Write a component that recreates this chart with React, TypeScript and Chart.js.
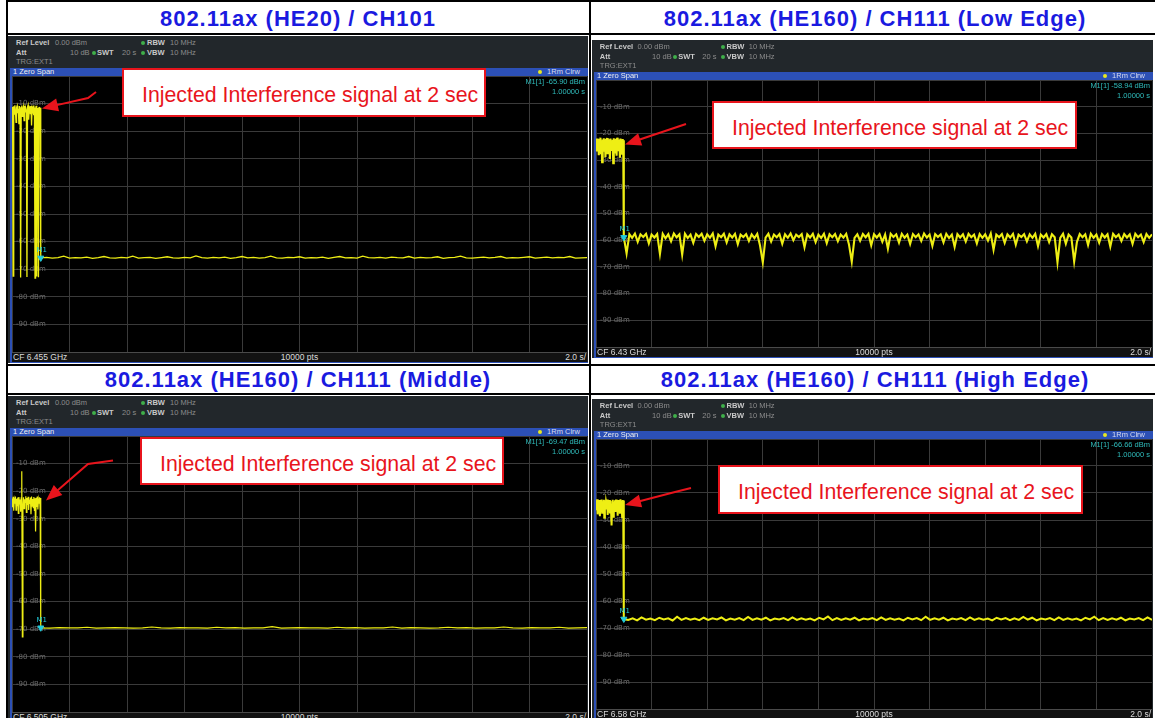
import React, { useEffect, useRef } from "react";
import { Chart, registerables } from "chart.js";
Chart.register(...registerables);

// ---------------- DATA ----------------
const panelTitles = [
  "802.11ax (HE20) / CH101",
  "802.11ax (HE160) / CH111 (Low Edge)",
  "802.11ax (HE160) / CH111 (Middle)",
  "802.11ax (HE160) / CH111 (High Edge)",
];
const centerFreqs = ["CF 6.455 GHz", "CF 6.43 GHz", "CF 6.505 GHz", "CF 6.58 GHz"];
const markerLevels = [-65.9, -58.94, -69.47, -66.66];
const markerTimes = [1.0, 1.0, 1.0, 1.0];
const markerReadouts = ["M1[1] -65.90 dBm", "M1[1] -58.94 dBm", "M1[1] -69.47 dBm", "M1[1] -66.66 dBm"];
const markerTimeText = "1.00000 s";
const yTickValues = [0, -10, -20, -30, -40, -50, -60, -70, -80, -90, -100];
const sweepTime = 20; // s (2.0 s/div)
const burstEnd = 1; // s
const calloutText = "Injected Interference signal at 2 sec";

// trace samples: interference burst (0..1 s) and residual floor (1..20 s), dBm
const burstA = [
  -11.2, -12.5, -72.5, -11.0, -13.8, -10.6, -12.9, -16.8, -11.4, -10.8,
  -13.5, -11.9, -17.5, -10.9, -12.2, -73.0, -11.5, -10.7, -14.6, -12.0,
  -11.1, -16.2, -10.8, -13.0, -11.7, -12.4, -72.8, -11.3, -10.6, -15.8,
  -12.1, -11.0, -13.6, -10.9, -17.9, -11.8, -12.6, -10.7, -14.2, -11.4,
  -73.2, -12.0, -10.8, -72.6, -11.6, -13.1, -72.9, -11.2, -12.8, -11.5, -13.4,
];
const floorA = [
  -65.9, -65.7, -66.0, -65.8, -65.3, -66.0, -65.8, -65.9, -65.6, -66.1,
  -65.8, -65.4, -65.9, -66.0, -65.7, -65.9, -65.3, -66.0, -65.8, -65.7,
  -66.1, -65.8, -65.5, -65.9, -66.0, -65.7, -65.9, -65.2, -65.8, -66.0,
  -65.7, -65.9, -65.6, -66.1, -65.8, -65.4, -65.9, -65.7, -66.0, -65.8,
  -65.3, -65.9, -66.0, -65.7, -65.8, -65.5, -66.0, -65.8, -65.9, -65.6,
  -66.1, -65.7, -65.4, -65.9, -65.8, -66.0, -65.3, -65.8, -65.9, -65.7,
  -66.0, -65.6, -65.8, -65.9, -65.4, -66.0, -65.7, -65.9, -65.8, -65.5,
  -66.1, -65.8, -65.7, -65.3, -65.9, -66.0, -65.8, -65.6, -65.9, -65.7,
  -65.4, -66.0, -65.8, -65.9, -65.7, -65.5, -66.0, -65.8, -65.6, -65.9,
  -65.7, -65.8, -65.4, -66.0, -65.9, -65.8,
];
const burstB = [
  -22.4, -26.8, -21.9, -25.5, -23.0, -28.2, -22.1, -24.6, -21.6, -27.4,
  -22.8, -30.8, -22.3, -25.9, -21.8, -26.5, -23.2, -28.9, -22.0, -24.2,
  -21.7, -27.8, -22.6, -25.1, -22.2, -29.6, -21.9, -26.2, -23.1, -24.8,
  -22.4, -31.2, -21.8, -27.1, -22.7, -25.6, -22.0, -28.4, -21.6, -24.9,
  -22.9, -26.7, -22.3, -29.1, -21.9, -25.3, -22.5, -27.6, -22.1, -24.4, -22.6,
];
const floorB = [
  -58.9, -65.0, -57.7, -59.1, -57.5, -60.6, -57.8, -58.8, -57.6, -61.2,
  -57.9, -59.0, -57.7, -65.1, -57.6, -59.3, -57.8, -60.4, -57.5, -58.9,
  -57.8, -65.4, -57.6, -59.2, -57.9, -61.0, -57.7, -58.8, -57.6, -60.2,
  -57.8, -59.1, -57.5, -62.3, -57.9, -58.9, -57.6, -60.8, -57.8, -59.0,
  -57.6, -61.5, -57.9, -58.8, -57.7, -60.3, -57.8, -59.2, -57.6, -62.0,
  -68.3, -59.0, -57.6, -60.5, -57.9, -58.9, -57.7, -61.3, -57.8, -59.1,
  -57.5, -60.0, -57.9, -58.8, -57.7, -62.6, -57.8, -59.0, -57.6, -60.7,
  -57.9, -59.2, -57.6, -61.1, -57.8, -58.9, -57.7, -60.4, -57.9, -59.0,
  -57.6, -61.6, -68.0, -59.1, -57.8, -60.2, -57.7, -58.9, -57.6, -61.9,
  -57.8, -59.0, -57.7, -60.6, -57.9, -63.2, -57.6, -58.8, -57.8, -60.9,
  -57.6, -59.1, -57.9, -61.4, -57.7, -58.9, -57.8, -60.3, -57.5, -59.0,
  -57.9, -62.1, -57.7, -58.8, -57.8, -60.8, -57.6, -59.2, -57.9, -62.5,
  -57.7, -59.0, -57.8, -60.5, -57.6, -58.9, -57.9, -61.2, -57.7, -59.1,
  -57.8, -60.1, -57.5, -63.6, -57.9, -58.9, -57.7, -61.0, -57.8, -59.0,
  -57.6, -61.7, -57.9, -58.8, -57.7, -60.4, -57.8, -59.1, -57.6, -62.2,
  -57.9, -59.0, -57.7, -60.7, -57.8, -58.9, -68.3, -59.1, -57.6, -61.3,
  -57.9, -59.0, -68.0, -60.6, -57.7, -58.9, -57.8, -61.8, -57.6, -59.1,
  -57.9, -60.9, -57.7, -59.0, -57.8, -62.4, -57.6, -58.9, -57.9, -60.3,
  -57.7, -59.0, -57.8, -61.4, -57.6, -58.9, -57.9, -60.7, -57.7, -59.1, -57.8,
];
const burstC = [
  -22.6, -25.8, -22.0, -27.1, -23.2, -24.5, -21.9, -26.9, -22.7, -25.2,
  -22.3, -28.0, -22.1, -24.8, -23.0, -27.4, -22.4, -12.8, -72.8, -25.6,
  -22.2, -26.3, -22.9, -24.1, -21.8, -27.7, -22.5, -25.0, -22.0, -26.8,
  -23.1, -24.6, -22.3, -28.3, -21.9, -25.4, -22.8, -26.0, -22.1, -27.2,
  -22.6, -34.6, -22.4, -25.7, -21.9, -26.6, -23.0, -24.3, -22.2, -27.0, -22.5,
];
const floorC = [
  -69.5, -69.6, -69.4, -69.5, -69.5, -69.3, -69.6, -69.5, -69.4, -69.5,
  -69.6, -69.5, -69.2, -69.5, -69.6, -69.4, -69.5, -69.5, -69.6, -69.3,
  -69.5, -69.4, -69.6, -69.5, -69.5, -69.1, -69.6, -69.5, -69.4, -69.5,
  -69.5, -69.6, -69.3, -69.5, -69.4, -69.6, -69.5, -69.5, -69.2, -69.6,
  -69.4, -69.5, -69.6, -69.5, -69.3, -69.5, -69.4, -69.6, -69.5, -69.5,
  -69.2, -69.5, -69.6, -69.4, -69.5, -69.5, -69.3, -69.6, -69.5, -69.4,
];
const burstD = [
  -22.8, -26.4, -22.3, -27.9, -23.4, -25.1, -22.6, -28.6, -22.9, -24.8,
  -22.4, -27.3, -23.1, -25.9, -22.5, -29.2, -22.7, -26.1, -23.3, -24.6,
  -22.4, -28.1, -22.9, -25.4, -22.6, -27.6, -23.0, -26.0, -32.0, -25.2,
  -22.5, -28.8, -23.2, -24.9, -22.7, -27.0, -22.4, -26.5, -23.1, -28.4,
  -22.6, -25.0, -22.9, -27.7, -22.3, -25.8, -23.0, -28.9, -22.6, -26.2, -22.8,
];
const floorD = [
  -66.7, -67.0, -66.4, -67.2, -66.1, -66.9, -66.5, -67.1, -66.2, -66.8,
  -66.4, -67.2, -65.8, -67.0, -66.3, -66.9, -66.5, -67.1, -66.2, -67.0,
  -66.4, -66.8, -66.1, -67.2, -66.5, -66.9, -66.3, -67.1, -65.9, -67.0,
  -66.4, -66.9, -66.2, -67.2, -66.5, -66.8, -66.3, -67.1, -66.1, -67.0,
  -66.4, -66.9, -66.5, -67.2, -66.2, -66.8, -65.7, -67.1, -66.3, -67.0,
  -66.4, -66.9, -66.2, -67.2, -66.5, -66.8, -66.3, -67.1, -66.1, -67.0,
  -66.4, -66.9, -66.5, -67.2, -66.2, -66.8, -66.3, -67.1, -65.8, -67.0,
  -66.4, -66.9, -66.2, -67.2, -66.5, -66.8, -66.3, -67.1, -66.1, -67.0,
  -66.4, -66.9, -66.5, -67.2, -66.2, -66.8, -66.3, -67.1, -66.4, -67.0,
  -65.9, -66.9, -66.2, -67.2, -66.5, -66.8, -66.3, -67.1, -66.1, -67.0,
  -66.4, -66.9, -66.5, -67.2, -66.2, -66.8, -65.8, -67.1, -66.3, -67.0,
  -66.4, -66.9, -66.2, -67.2, -66.5, -66.8, -66.3, -67.1, -66.1, -67.0,
];
const bursts = [burstA, burstB, burstC, burstD];
const floors = [floorA, floorB, floorC, floorD];

// ---------------- LAYOUT ----------------
const plots = [
  { L: 12, R: 587, T: 76, B: 352 },
  { L: 596, R: 1152, T: 80, B: 347 },
  { L: 12, R: 587, T: 436, B: 712 },
  { L: 596, R: 1152, T: 439, B: 709 },
];
const traceWidths = [1.3, 2.1, 1.2, 2.0];
const titleRows = [
  { cx: 298, capY: 19.2 },
  { cx: 875, capY: 19.2 },
  { cx: 298, capY: 380 },
  { cx: 875, capY: 380 },
];
const callouts = [
  { x: 122, y: 68, w: 364, h: 49 },
  { x: 712, y: 101, w: 365, h: 48 },
  { x: 140, y: 437, w: 364, h: 48 },
  { x: 718, y: 465, w: 365, h: 49 },
];
const arrows = [
  { path: [[96, 92], [88, 98]], tip: [42, 108.5] },
  { path: [[686, 124]], tip: [625, 144.5] },
  { path: [[113, 460.5], [88, 464]], tip: [46, 500.5] },
  { path: [[691, 488], [675, 492]], tip: [625, 505] },
];

const TRACE = "#eeee14";
const MARK = "#22ccdc";
const RED = "#e8141c";

function buildTrace(burst: number[], floor: number[]) {
  const pts: { x: number; y: number }[] = [];
  burst.forEach((v, i) => pts.push({ x: (i * burstEnd) / (burst.length - 1), y: v }));
  floor.forEach((v, i) =>
    pts.push({ x: burstEnd + (i * (sweepTime - burstEnd)) / (floor.length - 1), y: v })
  );
  return pts;
}

const markerLabelPlugin = {
  id: "m1label",
  afterDatasetsDraw(chart: any) {
    const el = chart.getDatasetMeta(0).data[0];
    if (!el) return;
    const ctx = chart.ctx;
    ctx.save();
    ctx.fillStyle = MARK;
    ctx.font = '7px "DejaVu Sans"';
    ctx.textAlign = "center";
    ctx.fillText("M1", el.x + 1, el.y - 6);
    ctx.restore();
  },
};

const zeroFit = (s: any, horizontal: boolean) => {
  if (horizontal) s.height = 0;
  else s.width = 0;
  s.paddingLeft = 0;
  s.paddingRight = 0;
  s.paddingTop = 0;
  s.paddingBottom = 0;
};

function TraceChart({ idx, width, height }: { idx: number; width: number; height: number }) {
  const ref = useRef<HTMLCanvasElement>(null);
  useEffect(() => {
    const chart = new Chart(ref.current as HTMLCanvasElement, {
      type: "line",
      data: {
        datasets: [
          {
            data: [{ x: markerTimes[idx], y: markerLevels[idx] }],
            pointStyle: "triangle",
            rotation: 180,
            pointRadius: 3.5,
            pointHoverRadius: 3.5,
            pointBackgroundColor: MARK,
            pointBorderColor: MARK,
            showLine: false,
            order: 0,
          } as any,
          {
            data: buildTrace(bursts[idx], floors[idx]),
            borderColor: TRACE,
            borderWidth: traceWidths[idx],
            pointRadius: 0,
            pointHoverRadius: 0,
            tension: 0,
            order: 1,
          },
        ],
      },
      options: {
        animation: false,
        responsive: false,
        maintainAspectRatio: false,
        events: [],
        layout: { padding: 0, autoPadding: false },
        plugins: { legend: { display: false }, tooltip: { enabled: false } },
        scales: {
          x: {
            type: "linear",
            min: 0,
            max: sweepTime,
            ticks: { display: false, stepSize: 2 },
            grid: { color: "#3a3a3a", drawTicks: false, lineWidth: 1 },
            border: { display: false },
            afterFit: (s: any) => zeroFit(s, true),
          },
          y: {
            min: yTickValues[yTickValues.length - 1],
            max: yTickValues[0],
            afterBuildTicks: (s: any) => {
              s.ticks = yTickValues.map((v) => ({ value: v }));
            },
            ticks: {
              mirror: true,
              padding: 4,
              color: "#6c6c6c",
              font: { size: 7, family: "DejaVu Sans" },
              callback: (v: any) => (v === 0 || v === -100 ? "" : `${v} dBm`),
            },
            grid: { color: "#3a3a3a", drawTicks: false, lineWidth: 1 },
            border: { display: false },
            afterFit: (s: any) => zeroFit(s, false),
          },
        },
      } as any,
      plugins: [markerLabelPlugin],
    });
    return () => chart.destroy();
  }, [idx]);
  return (
    <canvas
      ref={ref}
      width={width}
      height={height}
      style={{ display: "block", width, height, background: "#000" }}
    />
  );
}

const txt = (
  left: number,
  cy: number,
  s: string,
  color: string,
  bold = false,
  size = 7.5
): React.ReactElement => (
  <div
    key={`${left}-${cy}-${s}`}
    style={{
      position: "absolute",
      left,
      top: cy - 5,
      height: 10,
      lineHeight: "10px",
      fontSize: size,
      fontWeight: bold ? 700 : 400,
      color,
      whiteSpace: "nowrap",
      fontFamily: '"Liberation Sans", Arial, sans-serif',
    }}
  >
    {s}
  </div>
);

const dot = (left: number, cy: number, color: string) => (
  <div
    key={`dot-${left}-${cy}`}
    style={{
      position: "absolute",
      left,
      top: cy - 2,
      width: 4,
      height: 4,
      borderRadius: 2,
      background: color,
    }}
  />
);

function Panel({ i }: { i: number }) {
  const { L, R, T, B } = plots[i];
  const W = R - L;
  const H = B - T;
  const k = W / 575;
  const lab = "#c9c9c9";
  const val = "#8c8c8c";
  const green = "#3fae4a";
  const r1 = T - 33,
    r2 = T - 23,
    r3 = T - 14;
  return (
    <>
      <div
        style={{
          position: "absolute",
          left: L - 4,
          top: T - 40,
          width: W + 5,
          height: H + 51,
          background: "#22272b",
        }}
      />
      {txt(L + 4 * k, r1, "Ref Level", lab, true)}
      {txt(L + 43 * k, r1, "0.00 dBm", val)}
      {dot(L + 129 * k, r1, green)}
      {txt(L + 135 * k, r1, "RBW", lab, true)}
      {txt(L + 158 * k, r1, "10 MHz", val)}
      {txt(L + 4 * k, r2, "Att", lab, true)}
      {txt(L + 58 * k, r2, "10 dB", val)}
      {dot(L + 80 * k, r2, green)}
      {txt(L + 85 * k, r2, "SWT", lab, true)}
      {txt(L + 110 * k, r2, "20 s", val)}
      {dot(L + 129 * k, r2, green)}
      {txt(L + 135 * k, r2, "VBW", lab, true)}
      {txt(L + 158 * k, r2, "10 MHz", val)}
      {txt(L + 4 * k, r3, "TRG:EXT1", val)}
      <div
        style={{
          position: "absolute",
          left: L - 2,
          top: T - 8,
          width: W + 3,
          height: 8,
          background: "#2c50b6",
        }}
      />
      {txt(L + 1, T - 4, "1 Zero Span", "#f0f0f0", false, 7.5)}
      {dot(R - 49, T - 4, "#e8e820")}
      <div
        style={{
          position: "absolute",
          right: 1155 - (R - 7),
          top: T - 9,
          lineHeight: "10px",
          fontSize: 7.5,
          color: "#d8dcf0",
          fontFamily: '"Liberation Sans", Arial, sans-serif',
          whiteSpace: "nowrap",
        }}
      >
        1Rm Clrw
      </div>
      <div
        style={{ position: "absolute", left: L - 2, top: T, width: 2, height: H + 11, background: "#2c50b6" }}
      />
      <div style={{ position: "absolute", left: L, top: T, width: W, height: H }}>
        <TraceChart idx={i} width={W} height={H} />
      </div>
      <div
        style={{
          position: "absolute",
          right: 1155 - (R - 2),
          top: T + 1,
          textAlign: "right",
          lineHeight: "10px",
          fontSize: 7.5,
          color: "#2fbcbc",
          fontFamily: '"Liberation Sans", Arial, sans-serif',
          whiteSpace: "nowrap",
        }}
      >
        <div>{markerReadouts[i]}</div>
        <div>{markerTimeText}</div>
      </div>
      <div
        style={{
          position: "absolute",
          left: L,
          top: B,
          width: W,
          height: 10,
          background: "#121212",
          borderTop: "1px solid #4a4a4a",
          boxSizing: "border-box",
        }}
      />
      {txt(L + 1, B + 5, centerFreqs[i], "#dcdcdc", false, 8.5)}
      <div
        style={{
          position: "absolute",
          left: L,
          width: W,
          top: B,
          lineHeight: "10px",
          textAlign: "center",
          fontSize: 8.5,
          color: "#dcdcdc",
          fontFamily: '"Liberation Sans", Arial, sans-serif',
        }}
      >
        10000 pts
      </div>
      <div
        style={{
          position: "absolute",
          right: 1155 - (R - 1),
          top: B,
          lineHeight: "10px",
          fontSize: 8.5,
          color: "#dcdcdc",
          fontFamily: '"Liberation Sans", Arial, sans-serif',
        }}
      >
        2.0 s/
      </div>
      <div
        style={{ position: "absolute", left: L - 2, top: B + 10, width: W + 3, height: 1, background: "#2c50b6" }}
      />
    </>
  );
}

function Callout({ i }: { i: number }) {
  const c = callouts[i];
  return (
    <div
      style={{
        position: "absolute",
        left: c.x,
        top: c.y,
        width: c.w,
        height: c.h,
        boxSizing: "border-box",
        border: `2px solid ${RED}`,
        background: "#fff",
      }}
    >
      <span
        style={{
          position: "absolute",
          left: 18,
          top: 35 - 2 - 18,
          fontSize: 21.3,
          lineHeight: "21.3px",
          color: RED,
          whiteSpace: "nowrap",
          fontFamily: '"Liberation Sans", Arial, sans-serif',
        }}
      >
        {calloutText}
      </span>
    </div>
  );
}

function Arrows() {
  return (
    <svg
      width={1155}
      height={718}
      style={{ position: "absolute", left: 0, top: 0, pointerEvents: "none" }}
    >
      {arrows.map((a, i) => {
        const last = a.path[a.path.length - 1];
        const dx = a.tip[0] - last[0];
        const dy = a.tip[1] - last[1];
        const len = Math.hypot(dx, dy);
        const ux = dx / len,
          uy = dy / len;
        const hl = 16,
          hw = 6.5;
        const bx = a.tip[0] - ux * hl,
          by = a.tip[1] - uy * hl;
        const pts = [...a.path, [bx + ux * 2, by + uy * 2]].map((p) => p.join(",")).join(" ");
        const head = [
          a.tip,
          [bx - uy * hw, by + ux * hw],
          [bx + uy * hw, by - ux * hw],
        ]
          .map((p) => p.join(","))
          .join(" ");
        return (
          <g key={i}>
            <polyline points={pts} fill="none" stroke={RED} strokeWidth={2} />
            <polygon points={head} fill={RED} />
          </g>
        );
      })}
    </svg>
  );
}

export default function App() {
  const black = "#000";
  const line = (left: number, top: number, width: number, height: number) => (
    <div
      key={`${left}-${top}-${width}-${height}`}
      style={{ position: "absolute", left, top, width, height, background: black }}
    />
  );
  return (
    <div
      style={{
        position: "absolute",
        left: 0,
        top: 0,
        width: 1155,
        height: 718,
        overflow: "hidden",
        background: "#fff",
        fontFamily: '"Liberation Sans", Arial, sans-serif',
      }}
    >
      {titleRows.map((t, i) => (
        <div
          key={i}
          style={{
            position: "absolute",
            left: t.cx - 300,
            width: 600,
            top: t.capY - 10.8,
            textAlign: "center",
            fontSize: 22,
            lineHeight: "22px",
            letterSpacing: "1px",
            fontWeight: 700,
            color: "#1a1ae0",
            whiteSpace: "nowrap",
          }}
        >
          {panelTitles[i]}
        </div>
      ))}
      {[0, 1, 2, 3].map((i) => (
        <Panel key={i} i={i} />
      ))}
      {line(6, 0, 1149, 2)}
      {line(6, 0, 2, 718)}
      {line(6, 33, 1149, 2)}
      {line(589, 0, 2, 718)}
      {line(6, 364, 1149, 2)}
      {line(6, 393, 1149, 2)}
      {[0, 1, 2, 3].map((i) => (
        <Callout key={i} i={i} />
      ))}
      <Arrows />
    </div>
  );
}
